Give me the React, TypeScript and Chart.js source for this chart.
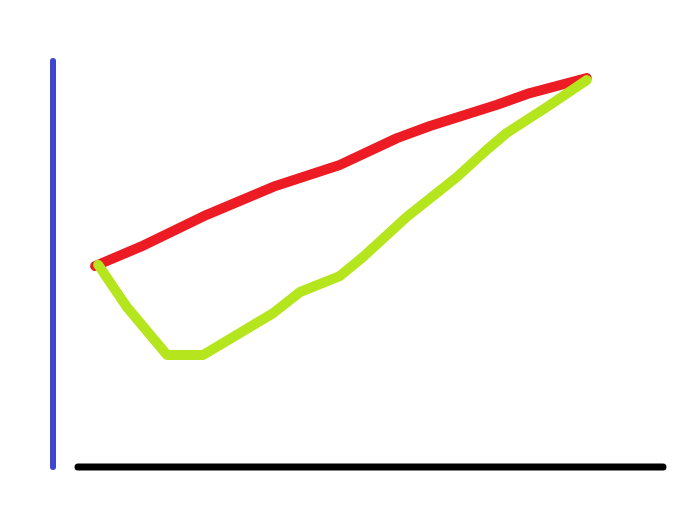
import { useEffect, useRef } from "react"
import { Chart, registerables } from "chart.js"

Chart.register(...registerables)

// values (x: 0..100 along the baseline, y: 0..100 up the vertical axis)
const redX = [6.9, 14.3, 25.2, 36.1, 47.0, 56.4, 61.8, 72.8, 78.2, 87.5]
const redY = [49.5, 54.2, 62.1, 69.0, 74.4, 81.0, 84.0, 89.2, 92.1, 95.8]

const greenX = [7.4, 12.1, 18.7, 24.6, 36.1, 40.5, 47.0, 50.8, 58.0, 66.2, 71.1, 74.4, 81.0, 87.5]
const greenY = [49.8, 39.4, 27.6, 27.6, 37.9, 43.1, 47.0, 51.7, 61.6, 71.4, 78.1, 82.3, 88.7, 95.3]

const verticalAxisX = [0, 0]
const verticalAxisY = [0, 100]
const baselineX = [4.1, 100]
const baselineY = [0, 0]

const toPoints = (xs: number[], ys: number[]) => xs.map((x, i) => ({ x, y: ys[i] }))

export default function App() {
  const canvasRef = useRef<HTMLCanvasElement>(null)
  const chartRef = useRef<Chart | null>(null)

  useEffect(() => {
    if (!canvasRef.current) return
    if (chartRef.current) chartRef.current.destroy()

    const lineStyle = {
      pointRadius: 0,
      tension: 0,
      fill: false,
      borderCapStyle: "round" as const,
      borderJoinStyle: "round" as const,
    }

    chartRef.current = new Chart(canvasRef.current, {
      type: "line",
      data: {
        datasets: [
          {
            label: "green",
            data: toPoints(greenX, greenY),
            borderColor: "#b5e61d",
            borderWidth: 10,
            order: 0,
            ...lineStyle,
          },
          {
            label: "red",
            data: toPoints(redX, redY),
            borderColor: "#ed1c24",
            borderWidth: 10,
            order: 1,
            ...lineStyle,
          },
          {
            label: "vertical axis",
            data: toPoints(verticalAxisX, verticalAxisY),
            borderColor: "#3f48cc",
            borderWidth: 6,
            order: 2,
            ...lineStyle,
          },
          {
            label: "baseline",
            data: toPoints(baselineX, baselineY),
            borderColor: "#000000",
            borderWidth: 7,
            order: 2,
            ...lineStyle,
          },
        ],
      },
      options: {
        animation: false,
        responsive: true,
        maintainAspectRatio: false,
        layout: { padding: 0 },
        scales: {
          x: { type: "linear", display: false, min: -8.69, max: 106.07 },
          y: { type: "linear", display: false, min: -15.52, max: 115.02 },
        },
        plugins: {
          legend: { display: false },
          tooltip: { enabled: false },
        },
      },
    })

    return () => {
      if (chartRef.current) {
        chartRef.current.destroy()
        chartRef.current = null
      }
    }
  }, [])

  return (
    <div style={{ position: "fixed", left: 0, top: 0, width: 700, height: 530, background: "#fff" }}>
      <canvas ref={canvasRef}></canvas>
    </div>
  )
}
